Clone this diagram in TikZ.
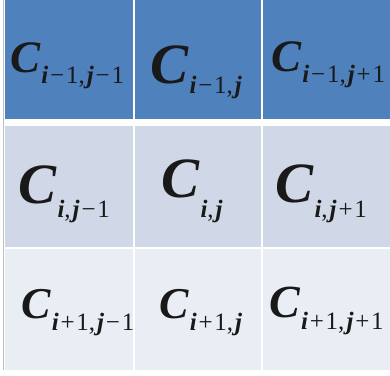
\documentclass[tikz,border=0pt]{standalone}
\usepackage{fontspec}
\setmainfont{Liberation Serif}
\definecolor{rowA}{HTML}{4F81BD}
\definecolor{rowB}{HTML}{D0D8E8}
\definecolor{rowC}{HTML}{E9EDF4}
\definecolor{edgegray}{HTML}{BFBFBF}
\newcommand\bi[1]{\textbf{\textit{#1}}}
\newcommand\mn{\hspace{1.8pt}−\hspace{1.8pt}}
\newcommand\pl{\hspace{1.8pt}+\hspace{1.8pt}}
\newcommand\cm{,\hspace{2pt}}
% #1 size of C, #2 drop of subscript, #3 subscript
\newcommand\cellC[3]{\fontsize{#1}{#1}\selectfont\bi{C}\hspace{1pt}\raisebox{-#2}{\fontsize{25}{25}\selectfont #3}}
\tikzset{
  lbl/.style={anchor=base west, inner sep=0pt, outer sep=0pt, text=black!90}
}
\begin{document}
\begin{tikzpicture}[x=1pt,y=-1pt]
\useasboundingbox (0,0) rectangle (390,375);
\fill[white] (0,0) rectangle (390,375);
\draw[edgegray, line width=1pt] (3,0) -- (3,370);
% rows
\fill[rowA] (5,0) rectangle (133,119);
\fill[rowA] (135,0) rectangle (261,119);
\fill[rowA] (263,0) rectangle (390,119);
\fill[rowB] (5,126) rectangle (133,247);
\fill[rowB] (135,126) rectangle (261,247);
\fill[rowB] (263,126) rectangle (390,247);
\fill[rowC] (5,249) rectangle (133,370);
\fill[rowC] (135,249) rectangle (261,370);
\fill[rowC] (263,249) rectangle (390,370);
% labels
\node[lbl] (a11) at (10,72) {\cellC{45}{11pt}{\bi{i}\mn1\cm\bi{j}\mn1}};
\node[lbl] (a12) at (150,83) {\cellC{57}{10pt}{\bi{i}\mn1\cm\bi{j}}};
\node[lbl] (a13) at (271,71) {\cellC{45}{11pt}{\bi{i}\mn1\cm\bi{j}\pl1}};
\node[lbl] (a21) at (18,203) {\cellC{57}{14pt}{\bi{i}\cm\bi{j}\mn1}};
\node[lbl] (a22) at (161,197) {\cellC{57}{20pt}{\bi{i}\cm\bi{j}}};
\node[lbl] (a23) at (275,202) {\cellC{57}{15pt}{\bi{i}\cm\bi{j}\pl1}};
\node[lbl] (a31) at (21,318) {\cellC{44}{12pt}{\bi{i}\pl1\cm\bi{j}\mn1}};
\node[lbl] (a32) at (159,318) {\cellC{44}{12pt}{\bi{i}\pl1\cm\bi{j}}};
\node[lbl] (a33) at (269,317) {\cellC{46}{12pt}{\bi{i}\pl1\cm\bi{j}\pl1}};
\end{tikzpicture}
\end{document}
